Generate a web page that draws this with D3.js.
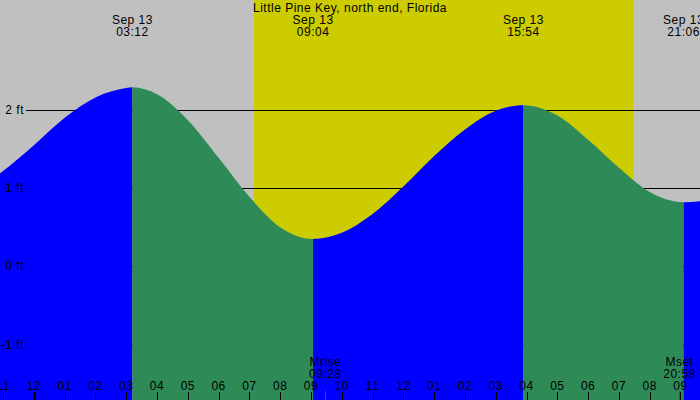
<!DOCTYPE html>
<html>
<head>
<meta charset="utf-8">
<script src="https://cdn.jsdelivr.net/npm/d3@7"></script>
<style>
  body { margin: 0; background: #fff; }
  svg { display: block; font-family: "Liberation Sans", Arial, sans-serif; letter-spacing: 0.5px; }
</style>
</head>
<body>
<svg id="chart" width="700" height="400"></svg>
<script>
const title = "Little Pine Key, north end, Florida";

// tide heights (ft)
const tideTimes = [
  "09-12 22:30", "09-12 23:00", "09-13 00:00", "09-13 01:00", "09-13 02:00",
  "09-13 03:00", "09-13 03:12", "09-13 04:00", "09-13 05:00", "09-13 06:00",
  "09-13 07:00", "09-13 08:00", "09-13 09:04", "09-13 10:00", "09-13 11:00",
  "09-13 12:00", "09-13 13:00", "09-13 14:00", "09-13 15:00", "09-13 15:54",
  "09-13 17:00", "09-13 18:00", "09-13 19:00", "09-13 20:00", "09-13 21:06",
  "09-13 22:00"
];
const tideFeet = [
  1.08, 1.22, 1.55, 1.90, 2.16,
  2.28, 2.29, 2.20, 1.87, 1.39,
  0.89, 0.50, 0.35, 0.43, 0.67,
  1.02, 1.41, 1.75, 1.99, 2.06,
  1.93, 1.62, 1.26, 0.95, 0.82,
  0.85
];

// high / low tides
const extremeTimes = ["09-13 03:12", "09-13 09:04", "09-13 15:54", "09-13 21:06"];
const extremeLabels = ["03:12", "09:04", "15:54", "21:06"];
const extremeDay = "Sep 13";

// daylight
const sunrise = "09-13 07:09";
const sunset = "09-13 19:28";

// moon
const moonTimes = ["09-13 09:28", "09-13 20:58"];
const moonNames = ["Mrise", "Mset"];
const moonLabels = ["09:28", "20:58"];

const feetTicks = [2, 1, 0, -1];

const parse = d3.timeParse("%Y-%m-%d %H:%M");
const t = (s) => parse("2023-" + s);

const width = 700, height = 400;
const svg = d3.select("#chart");

const x = d3.scaleTime()
  .domain([t("09-12 22:54"), t("09-13 21:38")])
  .range([0, width]);

const y = d3.scaleLinear()
  .domain([-1, 2])
  .range([344.5, 110]);

const points = tideTimes.map((s, i) => ({ time: t(s), feet: tideFeet[i] }));

// background: night grey, day yellow
svg.append("rect")
  .attr("width", width).attr("height", height)
  .attr("fill", "#c0c0c0");

svg.append("rect")
  .attr("x", x(t(sunrise)))
  .attr("width", x(t(sunset)) - x(t(sunrise)))
  .attr("height", height)
  .attr("fill", "#cccc00");

// level lines sit under the water
svg.selectAll(".level")
  .data(feetTicks)
  .enter().append("line")
  .attr("x1", 26).attr("x2", width)
  .attr("y1", (d) => Math.round(y(d)) + 0.5)
  .attr("y2", (d) => Math.round(y(d)) + 0.5)
  .attr("stroke", "#000")
  .attr("stroke-width", 1);

const area = d3.area()
  .curve(d3.curveMonotoneX)
  .x((d) => x(d.time))
  .y0(height)
  .y1((d) => y(d.feet));

// cut points between rising and falling stretches
let bounds = [x.domain()[0]].concat(extremeTimes.map(t), [x.domain()[1]]);
let defs = svg.append("defs");

for (let i = 0; i < bounds.length - 1; i++) {
  let x1 = x(bounds[i]);
  let x2 = x(bounds[i + 1]);
  defs.append("clipPath")
    .attr("id", "seg-" + i)
    .append("rect")
    .attr("x", x1).attr("y", 0)
    .attr("width", x2 - x1).attr("height", height);

  // even stretches rise to a high, odd ones fall to a low
  svg.append("path")
    .datum(points)
    .attr("d", area)
    .attr("clip-path", `url(#seg-${i})`)
    .attr("fill", i % 2 == 0 ? "#0000ff" : "#2e8b57");
}

// feet labels
svg.selectAll(".feet")
  .data(feetTicks)
  .enter().append("text")
  .attr("x", 24)
  .attr("y", (d) => y(d) + 4)
  .attr("text-anchor", "end")
  .attr("font-size", 12)
  .text((d) => d + " ft");

// title and tide times
svg.append("text")
  .attr("x", 350).attr("y", 12)
  .attr("text-anchor", "middle")
  .attr("font-size", 12)
  .text(title);

extremeTimes.forEach((s, i) => {
  let g = svg.append("g").attr("text-anchor", "middle").attr("font-size", 12);
  g.append("text").attr("x", x(t(s))).attr("y", 24).text(extremeDay);
  g.append("text").attr("x", x(t(s))).attr("y", 36).text(extremeLabels[i]);
});

// hour ticks along the bottom
const hours = x.ticks(d3.timeHour.every(1));
const fmt = d3.timeFormat("%I");

svg.selectAll(".tick")
  .data(hours)
  .enter().append("line")
  .attr("x1", (d) => Math.round(x(d)) + 0.5)
  .attr("x2", (d) => Math.round(x(d)) + 0.5)
  .attr("y1", 392).attr("y2", height)
  .attr("stroke", "#000")
  .attr("stroke-width", (d) => (d.getHours() == 0 ? 3 : 1));

svg.selectAll(".hour")
  .data(hours)
  .enter().append("text")
  .attr("x", (d) => x(d))
  .attr("y", 390)
  .attr("text-anchor", "middle")
  .attr("font-size", 12)
  .text((d) => fmt(d));

// moon rise / set
moonTimes.forEach((s, i) => {
  let mx = x(t(s));
  svg.append("line")
    .attr("x1", Math.round(mx) + 0.5).attr("x2", Math.round(mx) + 0.5)
    .attr("y1", 391).attr("y2", height)
    .attr("stroke", "#ff0000");
  let g = svg.append("g").attr("text-anchor", "middle").attr("font-size", 12);
  g.append("text").attr("x", mx).attr("y", 366).text(moonNames[i]);
  g.append("text").attr("x", mx).attr("y", 378).text(moonLabels[i]);
});
</script>
</body>
</html>
